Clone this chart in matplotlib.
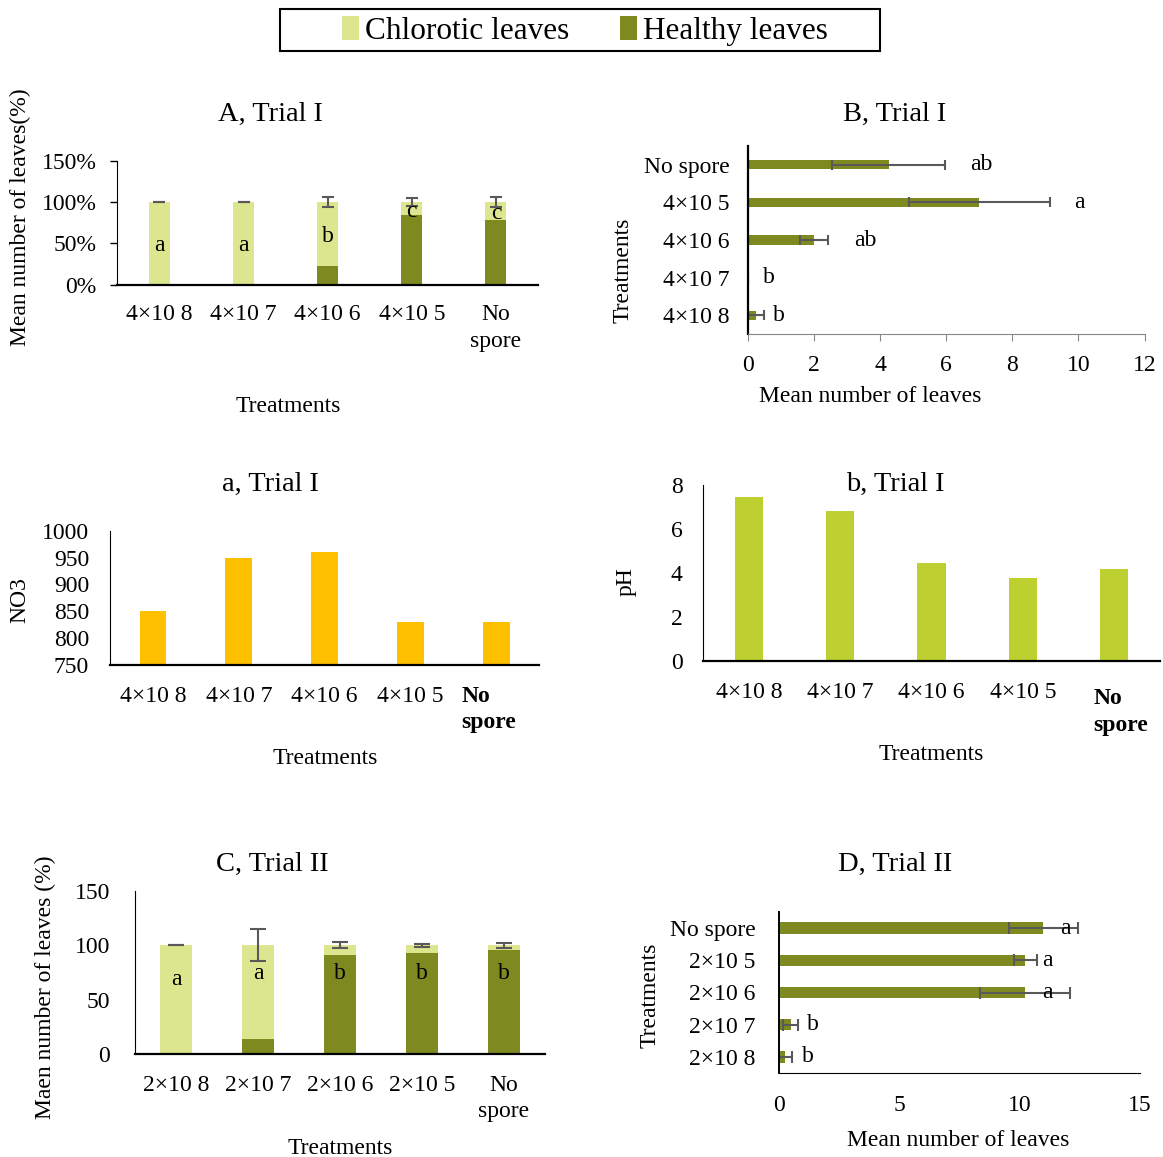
import numpy as np
import matplotlib
matplotlib.use('Agg')
import matplotlib.pyplot as plt
from matplotlib.patches import Patch, Rectangle

plt.rcParams['font.family'] = ['Liberation Serif', 'DejaVu Serif']

# colours
CHLOR = '#DCE68E'
HEALTHY = '#7E8A20'
GOLD = '#FFC000'
PH_GREEN = '#BDD030'
ERR = '#595959'

# ---- data ----
trial1_labels = ['4×10 8', '4×10 7', '4×10 6', '4×10 5', 'No\nspore']
trial2_labels = ['2×10 8', '2×10 7', '2×10 6', '2×10 5', 'No\nspore']

# A, Trial I  (% of leaves)
a_healthy = [0, 0, 22.5, 84.3, 78.7]
a_chlorotic = [100, 100, 77.5, 15.7, 21.3]
a_err = [0, 0, 6.2, 5.0, 6.0]
a_letters = ['a', 'a', 'b', 'c', 'c']

# B, Trial I  (mean number of leaves, bottom to top)
b_labels = ['4×10 8', '4×10 7', '4×10 6', '4×10 5', 'No spore']
b_means = [0.25, 0, 2.01, 7.01, 4.27]
b_err = [0.25, 0, 0.42, 2.12, 1.71]
b_letters = ['b', 'b', 'ab', 'a', 'ab']

# a, Trial I  (NO3)
no3 = [850, 950, 960, 830, 830]

# b, Trial I  (pH)
ph = [7.45, 6.82, 4.45, 3.78, 4.19]

# C, Trial II  (% of leaves)
c_healthy = [0, 14.1, 90.5, 92.4, 95.7]
c_chlorotic = [100, 85.9, 9.5, 7.6, 4.3]
c_err = [0, 15, 2.8, 1.4, 2.4]
c_letters = ['a', 'a', 'b', 'b', 'b']

# D, Trial II  (mean number of leaves, bottom to top)
d_labels = ['2×10 8', '2×10 7', '2×10 6', '2×10 5', 'No spore']
d_means = [0.25, 0.48, 10.25, 10.25, 11.0]
d_err = [0.27, 0.30, 1.87, 0.48, 1.42]
d_letters = ['b', 'b', 'a', 'a', 'a']

# ---- layout helpers (pixel coordinates, origin top-left) ----
W, H = 1163, 1157
FS = 17
TFS = 20.5
LS = 1.35
fig = plt.figure(figsize=(W / 100, H / 100), dpi=100)


def px_axes(left, top, right, bottom):
    ax = fig.add_axes([left / W, 1 - bottom / H, (right - left) / W, (bottom - top) / H])
    ax.spines['top'].set_visible(False)
    ax.spines['right'].set_visible(False)
    ax.tick_params(labelsize=FS)
    return ax


def fig_text(x, y, s, **kw):
    # small nudge so the visible glyphs sit where they do in the original
    fig.text(x / W, 1 - (y + 2) / H, s, ha='center', va='center', **kw)


def spaced_xlabels(ax, labels):
    ax.set_xticklabels(labels)
    for t in ax.get_xticklabels():
        t.set_linespacing(LS)


# ---- legend ----
fig.add_artist(Rectangle((280 / W, 1 - 51 / H), 600 / W, 42 / H, transform=fig.transFigure,
                         fill=False, ec='black', lw=1.5))
fig.legend([Patch(facecolor=CHLOR), Patch(facecolor=HEALTHY)],
           ['Chlorotic leaves', 'Healthy leaves'], loc='center',
           bbox_to_anchor=(585 / W, 1 - 31 / H), ncol=2, frameon=False, fontsize=22.5,
           handlelength=0.55, handleheight=0.8, handletextpad=0.2, columnspacing=1.6)

x = np.arange(5)

# ---- A, Trial I ----
ax = px_axes(117.3, 160.7, 538, 284.7)
ax.bar(x, a_healthy, 0.25, color=HEALTHY)
ax.bar(x, a_chlorotic, 0.25, bottom=a_healthy, color=CHLOR)
tot = np.add(a_healthy, a_chlorotic)
ax.errorbar(x, tot, yerr=a_err, fmt='none', ecolor=ERR, elinewidth=1.5, capsize=4.5, capthick=1.5)
for i, s in enumerate(a_letters):
    ax.text(i, a_healthy[i] + a_chlorotic[i] / 2 - 3, s, ha='center', va='center', fontsize=FS)
ax.set_xlim(-0.5, 4.5)
ax.set_ylim(0, 150)
ax.set_yticks([0, 50, 100, 150])
ax.set_yticklabels([f'{v}%' for v in [0, 50, 100, 150]])
ax.set_xticks(x)
spaced_xlabels(ax, trial1_labels)
ax.tick_params(axis='x', length=0, pad=14)
ax.tick_params(axis='y', length=5, width=1, pad=10)
ax.spines['bottom'].set_linewidth(1.6)
fig_text(270, 112, 'A, Trial I', fontsize=TFS)
fig_text(288, 405, 'Treatments', fontsize=FS)
fig_text(20, 215, 'Mean number of leaves(%)', fontsize=FS, rotation=90)

# ---- B, Trial I ----
ax = px_axes(747.7, 146, 1144.5, 334)
ax.barh(x, b_means, 0.24, color=HEALTHY)
ax.errorbar(b_means, x, xerr=b_err, fmt='none', ecolor=ERR, elinewidth=1.5, capsize=3.5, capthick=1.5)
b_letter_x = [0.76, 0.46, 3.21, 9.87, 6.73]
for i, s in enumerate(b_letters):
    ax.text(b_letter_x[i], i, s, ha='left', va='center', fontsize=FS)
ax.set_xlim(0, 12)
ax.set_ylim(-0.5, 4.5)
ax.set_xticks(range(0, 13, 2))
ax.set_yticks(x)
ax.set_yticklabels(b_labels)
ax.spines['bottom'].set_color('#868686')
ax.spines['left'].set_linewidth(1.6)
ax.tick_params(axis='x', length=5, color='#868686', pad=10)
ax.tick_params(axis='y', length=0, pad=13)
fig_text(895, 112, 'B, Trial I', fontsize=TFS)
fig_text(870, 395, 'Mean number of leaves', fontsize=FS)
fig_text(623, 268, 'Treatments', fontsize=FS, rotation=90)

# ---- a, Trial I ----
ax = px_axes(110, 530.7, 539.3, 665)
ax.bar(x, no3, 0.31, color=GOLD)
ax.set_xlim(-0.5, 4.5)
ax.set_ylim(750, 1000)
ax.set_yticks(range(750, 1001, 50))
ax.set_xticks(x)
ax.set_xticklabels(trial1_labels[:4] + [''])
ax.annotate(trial1_labels[4], xy=(4, 0), xycoords=('data', 'axes fraction'),
            xytext=(-25, -15), textcoords='offset points', ha='left', va='top',
            fontsize=FS, fontweight='bold', linespacing=LS)
ax.tick_params(axis='both', length=0)
ax.tick_params(axis='x', pad=15)
ax.tick_params(axis='y', pad=15)
ax.spines['bottom'].set_linewidth(1.6)
fig_text(270, 482, 'a, Trial I', fontsize=TFS)
fig_text(325, 757, 'Treatments', fontsize=FS)
fig_text(20, 598, 'NO3', fontsize=FS, rotation=90)

# ---- b, Trial I ----
ax = px_axes(703.3, 485, 1160, 660.7)
ax.bar(x, ph, 0.31, color=PH_GREEN)
ax.set_xlim(-0.5, 4.5)
ax.set_ylim(0, 8)
ax.set_yticks(range(0, 9, 2))
ax.set_xticks(x)
ax.set_xticklabels(trial1_labels[:4] + [''])
ax.annotate(trial1_labels[4], xy=(4, 0), xycoords=('data', 'axes fraction'),
            xytext=(-15, -20), textcoords='offset points', ha='left', va='top',
            fontsize=FS, fontweight='bold', linespacing=LS)
ax.tick_params(axis='both', length=0)
ax.tick_params(axis='x', pad=15)
ax.tick_params(axis='y', pad=15)
ax.spines['bottom'].set_linewidth(1.6)
fig_text(895, 482, 'b, Trial I', fontsize=TFS)
fig_text(931, 752, 'Treatments', fontsize=FS)
fig_text(626, 580, 'pH', fontsize=FS, rotation=90)

# ---- C, Trial II ----
ax = px_axes(135, 890.7, 545, 1054)
ax.bar(x, c_healthy, 0.4, color=HEALTHY)
ax.bar(x, c_chlorotic, 0.4, bottom=c_healthy, color=CHLOR)
tot = np.add(c_healthy, c_chlorotic)
ax.errorbar(x, tot, yerr=c_err, fmt='none', ecolor=ERR, elinewidth=1.5, capsize=5.5, capthick=1.5)
c_letter_y = [68, 74, 74, 74, 74]
for i, s in enumerate(c_letters):
    ax.text(i, c_letter_y[i], s, ha='center', va='center', fontsize=FS)
ax.set_xlim(-0.5, 4.5)
ax.set_ylim(0, 150)
ax.set_yticks([0, 50, 100, 150])
ax.set_xticks(x)
spaced_xlabels(ax, trial2_labels)
ax.tick_params(axis='both', length=0)
ax.tick_params(axis='x', pad=15)
ax.tick_params(axis='y', pad=18)
ax.spines['bottom'].set_linewidth(1.6)
fig_text(272, 862, 'C, Trial II', fontsize=TFS)
fig_text(340, 1146, 'Treatments', fontsize=FS)
fig_text(45, 985, 'Maen number of leaves (%)', fontsize=FS, rotation=90)

# ---- D, Trial II ----
ax = px_axes(779, 912, 1139.6, 1073)
ax.barh(x, d_means, 0.36, color=HEALTHY)
ax.errorbar(d_means, x, xerr=d_err, fmt='none', ecolor=ERR, elinewidth=1.5, capsize=4, capthick=1.5)
for i, s in enumerate(d_letters):
    ax.text(d_means[i] + 0.7, i, s, ha='left', va='center', fontsize=FS)
ax.set_xlim(0, 15)
ax.set_ylim(-0.5, 4.5)
ax.set_xticks([0, 5, 10, 15])
ax.set_yticks(x)
ax.set_yticklabels(d_labels)
ax.tick_params(axis='both', length=0)
ax.tick_params(axis='x', pad=16)
ax.tick_params(axis='y', pad=17)
ax.spines['left'].set_linewidth(1.4)
fig_text(895, 862, 'D, Trial II', fontsize=TFS)
fig_text(958, 1138, 'Mean number of leaves', fontsize=FS)
fig_text(650, 993, 'Treatments', fontsize=FS, rotation=90)

fig.savefig('out.png', dpi=100, facecolor='white')
